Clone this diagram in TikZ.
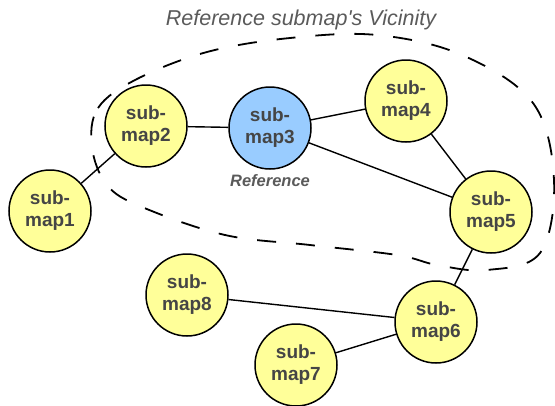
\documentclass[tikz,border=0pt]{standalone}
\usepackage{fontspec}
\setmainfont{Liberation Sans}
\usetikzlibrary{positioning}
\definecolor{mapyellow}{HTML}{FFFF99}
\definecolor{mapblue}{HTML}{99CCFF}
\definecolor{textgray}{HTML}{454545}
\definecolor{titlegray}{HTML}{5A5A5A}
\begin{document}
\begin{tikzpicture}[x=1pt, y=-1pt,
    submap/.style={circle, draw=black, line width=1.5pt, fill=mapyellow, minimum size=82pt,
                   inner sep=0pt, align=center, text=textgray,
                   font=\fontsize{19}{22}\selectfont\bfseries},
    link/.style={line width=1.4pt},
    vicinity/.style={line width=1.8pt, dash pattern=on 19pt off 20pt}]
        \useasboundingbox (0,0) rectangle (555,405);

        % Title
        \node[font=\fontsize{21.5}{24}\selectfont\itshape, text=titlegray] (title) at (301,20) {Reference submap\textquotesingle s Vicinity};

        % Dashed border of the vicinity
        \draw[vicinity] plot[smooth cycle, tension=0.6] coordinates {
            (92,147) (98,108) (137,79) (207,52) (290,38) (377,35) (462,55) (533,103)
            (554,180) (540,253) (487,270) (437,265) (397,255) (310,245) (225,235)
            (142,207) (107,185)};

        % Submaps
        \node[submap] (m1) at (50,211) {sub-\\map1};
        \node[submap] (m2) at (146,126) {sub-\\map2};
        \node[submap, fill=mapblue] (m3) at (270,128) {sub-\\map3};
        \node[submap] (m4) at (406,101) {sub-\\map4};
        \node[submap] (m5) at (491,212) {sub-\\map5};
        \node[submap] (m6) at (436,322) {sub-\\map6};
        \node[submap] (m7) at (296,365) {sub-\\map7};
        \node[submap] (m8) at (187,295) {sub-\\map8};

        % Label of the reference submap
        \node[font=\fontsize{16.5}{18}\selectfont\bfseries\itshape, text=titlegray, below=1pt of m3] (ref) {Reference};

        % Links
        \draw[link] (m1) -- (m2);
        \draw[link] (m2) -- (m3);
        \draw[link] (m3) -- (m4);
        \draw[link] (m3) -- (m5);
        \draw[link] (m4) -- (m5);
        \draw[link] (m5) -- (m6);
        \draw[link] (m8) -- (m6);
        \draw[link] (m7) -- (m6);
\end{tikzpicture}
\end{document}
